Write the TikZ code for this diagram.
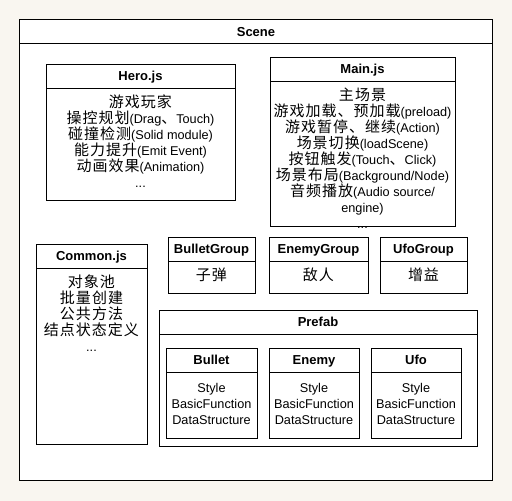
\documentclass[tikz,border=0pt]{standalone}
\usepackage{fontspec}
\setmainfont{Liberation Sans}
\newfontfamily\cjkfont[LetterSpace=6.7]{Noto Sans CJK SC}
\newcommand{\zh}[1]{{\cjkfont\fontsize{15}{16}\selectfont #1}}
\newcommand{\fl}{\rule{0pt}{14pt}}
\definecolor{bgc}{RGB}{249,246,240}
\tikzset{
  box/.style={draw=black, fill=white, line width=1pt, rectangle, anchor=north west, inner sep=0pt, outer sep=0pt},
  ttl/.style={font=\bfseries\fontsize{13}{16}\selectfont, inner sep=0pt, anchor=base},
  body/.style={font=\fontsize{12.7}{16}\selectfont, align=center, inner sep=0pt, anchor=north},
  divl/.style={line width=1pt}
}
\begin{document}
\begin{tikzpicture}[x=1pt,y=-1pt]
\fill[bgc] (0,0) rectangle (512,501);
\useasboundingbox (0,0) rectangle (512,501);
% Scene
\node[box, minimum width=473pt, minimum height=460.5pt] (scene) at (19.5,19.5) {};
\draw[divl] ([yshift=-23.5pt]scene.north west) -- ([yshift=-23.5pt]scene.north east);
\node[ttl] (sceneT) at (256,36) {Scene};
% Hero
\node[box, minimum width=189pt, minimum height=136pt] (hero) at (46,64) {};
\draw[divl] ([yshift=-24pt]hero.north west) -- ([yshift=-24pt]hero.north east);
\node[ttl] (heroT) at (140.5,80.5) {Hero.js};
\node[body] (heroB) at (140.5,93.5) {\fl\zh{游戏玩家}\\
\zh{操控规划}(Drag\zh{、}Touch)\\
\zh{碰撞检测}(Solid module)\\
\zh{能力提升}(Emit Event)\\
\zh{动画效果}(Animation)\\
...};
% Main
\node[box, minimum width=185pt, minimum height=169pt] (main) at (270,57) {};
\draw[divl] ([yshift=-24pt]main.north west) -- ([yshift=-24pt]main.north east);
\node[ttl] (mainT) at (362.5,73.5) {Main.js};
\node[body] (mainB) at (362.5,86.5) {\fl\zh{主场景}\\
\zh{游戏加载、预加载}(preload)\\
\zh{游戏暂停、继续}(Action)\\
\zh{场景切换}(loadScene)\\
\zh{按钮触发}(Touch\zh{、}Click)\\
\zh{场景布局}(Background/Node)\\
\zh{音频播放}(Audio source/\\
engine)\\
...};
% Common
\node[box, minimum width=111pt, minimum height=200pt] (common) at (36,244) {};
\draw[divl] ([yshift=-24pt]common.north west) -- ([yshift=-24pt]common.north east);
\node[ttl] (commonT) at (91.5,260.5) {Common.js};
\node[body] (commonB) at (91.5,273.5) {\fl\zh{对象池}\\
\zh{批量创建}\\
\zh{公共方法}\\
\zh{结点状态定义}\\
...};
% Groups
\node[box, minimum width=87pt, minimum height=56pt] (bg) at (168,237) {};
\draw[divl] ([yshift=-24pt]bg.north west) -- ([yshift=-24pt]bg.north east);
\node[ttl] (bgT) at (211.5,253.5) {BulletGroup};
\node[body] (bgB) at (211.5,266.5) {\fl\zh{子弹}};
\node[box, minimum width=99pt, minimum height=56pt] (eg) at (269,237) {};
\draw[divl] ([yshift=-24pt]eg.north west) -- ([yshift=-24pt]eg.north east);
\node[ttl] (egT) at (318.5,253.5) {EnemyGroup};
\node[body] (egB) at (318.5,266.5) {\fl\zh{敌人}};
\node[box, minimum width=87pt, minimum height=56pt] (ug) at (380,237) {};
\draw[divl] ([yshift=-24pt]ug.north west) -- ([yshift=-24pt]ug.north east);
\node[ttl] (ugT) at (423.5,253.5) {UfoGroup};
\node[body] (ugB) at (423.5,266.5) {\fl\zh{增益}};
% Prefab
\node[box, minimum width=318pt, minimum height=136pt] (prefab) at (159,310) {};
\draw[divl] ([yshift=-24pt]prefab.north west) -- ([yshift=-24pt]prefab.north east);
\node[ttl] (prefabT) at (318,326.5) {Prefab};
\node[box, minimum width=91pt, minimum height=90pt] (bullet) at (166,348) {};
\draw[divl] ([yshift=-24.5pt]bullet.north west) -- ([yshift=-24.5pt]bullet.north east);
\node[ttl] (bulletT) at (211.5,364.5) {Bullet};
\node[body] (bulletB) at (211.5,378) {\fl Style\\BasicFunction\\DataStructure};
\node[box, minimum width=90pt, minimum height=90pt] (enemy) at (269,348) {};
\draw[divl] ([yshift=-24.5pt]enemy.north west) -- ([yshift=-24.5pt]enemy.north east);
\node[ttl] (enemyT) at (314,364.5) {Enemy};
\node[body] (enemyB) at (314,378) {\fl Style\\BasicFunction\\DataStructure};
\node[box, minimum width=90pt, minimum height=90pt] (ufo) at (371,348) {};
\draw[divl] ([yshift=-24.5pt]ufo.north west) -- ([yshift=-24.5pt]ufo.north east);
\node[ttl] (ufoT) at (416,364.5) {Ufo};
\node[body] (ufoB) at (416,378) {\fl Style\\BasicFunction\\DataStructure};
\end{tikzpicture}
\end{document}
